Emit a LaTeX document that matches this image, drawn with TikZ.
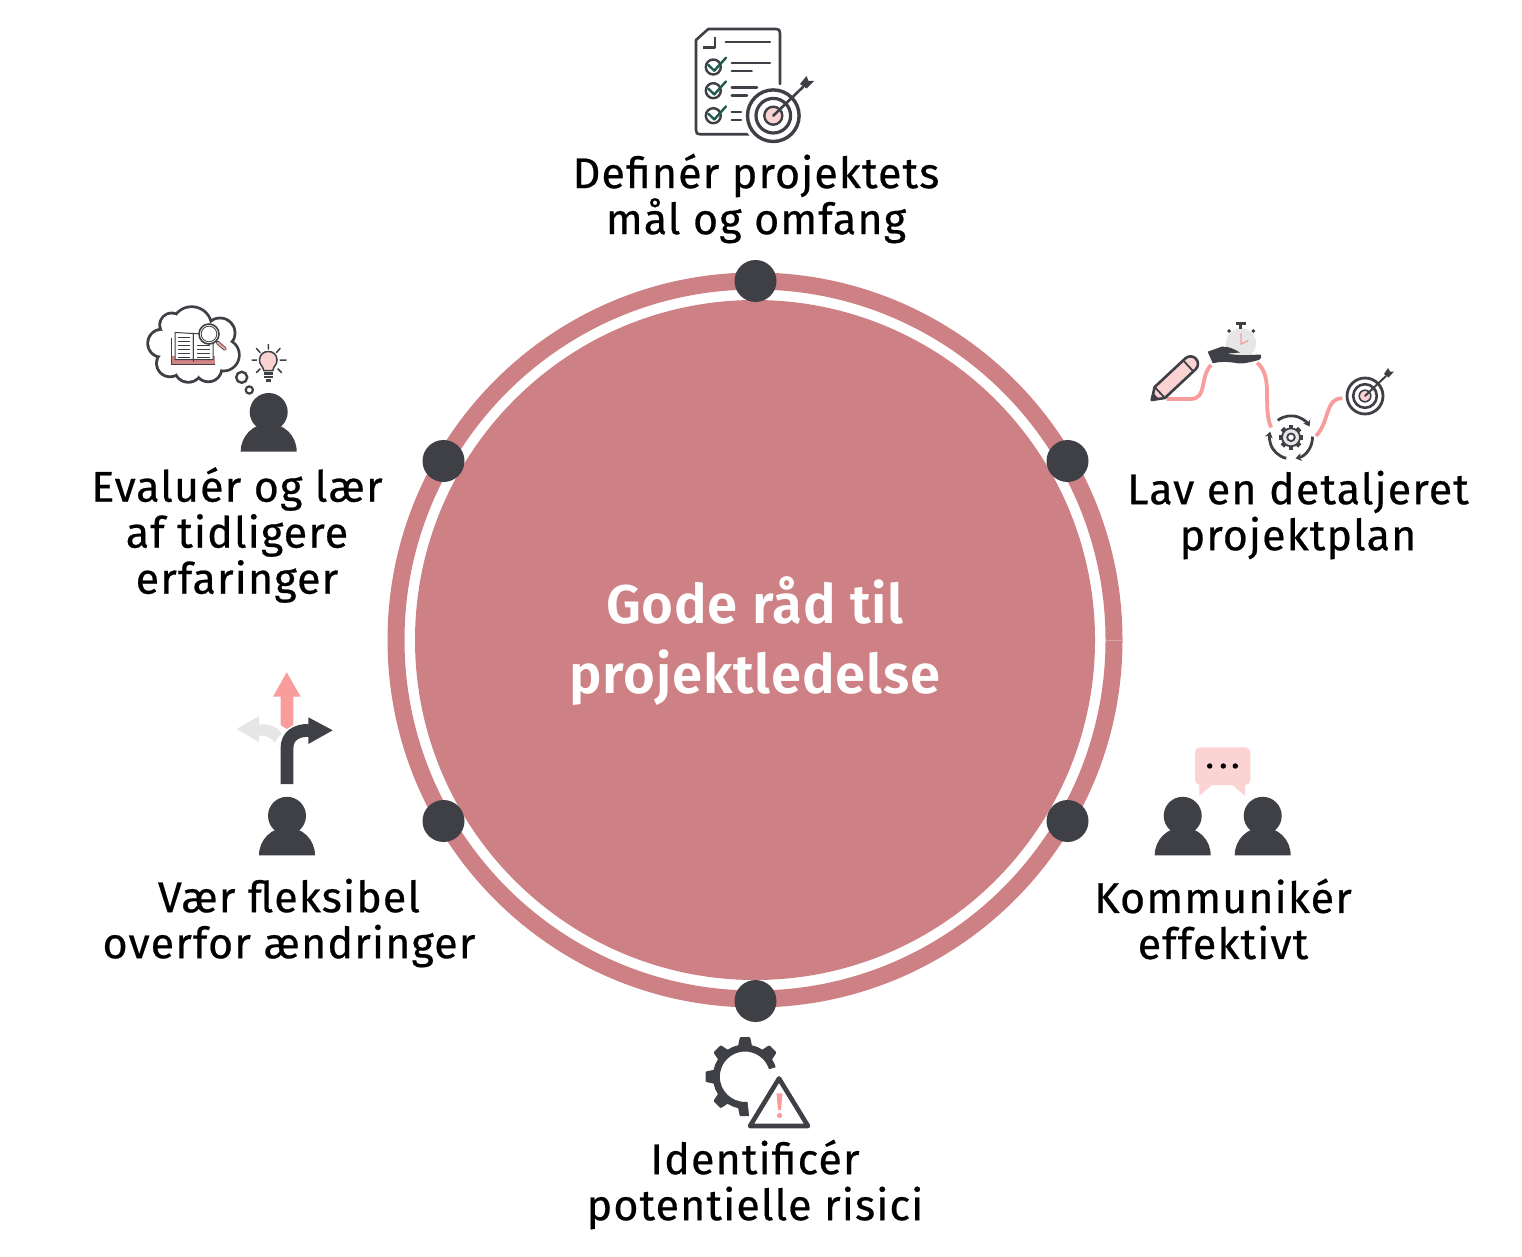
\documentclass[tikz,border=0pt]{standalone}
\usepackage{fontspec}
\usetikzlibrary{arrows.meta}
\setmainfont{Fira Sans}[LetterSpace=2.6,FakeBold=0.5]
\newfontfamily\boldf{Fira Sans SemiBold}[LetterSpace=1.5]
\definecolor{rose}{HTML}{CD8185}
\definecolor{seam}{HTML}{DDA4A7}
\definecolor{ink}{HTML}{3F4045}
\definecolor{salmon}{HTML}{F89C9C}
\definecolor{blush}{HTML}{FBD3D3}
\definecolor{mist}{HTML}{E6E6E6}
\definecolor{leaf}{HTML}{1F5A4A}
\tikzset{
 lab/.style={align=center,font=\fontsize{43}{46}\selectfont,text=black,inner sep=0pt},
 title/.style={align=center,font=\boldf\fontsize{54.5}{70}\selectfont,text=white,inner sep=0pt},
 dot/.style={circle,fill=ink,minimum size=42pt,inner sep=0pt},
 outl/.style={draw=ink,line width=2.6pt,line join=round,line cap=round},
 thinl/.style={draw=ink,line width=2pt,line cap=round},
 curvel/.style={draw=salmon,line width=3.8pt,line cap=butt},
 check/.style={draw=leaf,line width=2.4pt,line cap=round,line join=round},
 person/.pic={\fill[ink] (0,-39.5) circle (19);
   \fill[ink] (-28,0) .. controls (-28,-16) and (-15,-28) .. (0,-28) .. controls (15,-28) and (28,-16) .. (28,0) -- cycle;},
}
\begin{document}
\begin{tikzpicture}[x=1pt,y=-1pt]
\useasboundingbox (0,0) rectangle (1522,1257);
% ring and disc
\fill[rose,even odd rule] (755,640) circle (367.5) (755,640) circle (350.5);
\fill[rose] (755,640) circle (340);
\draw[seam,line width=0.5pt] (1105.5,640) -- (1122.5,640);
\node[title] (centre) at (755,641) {Gode råd til\\projektledelse};
% dots
\node[dot] (d1) at (755.5,281) {};
\node[dot] (d2) at (1067.5,461) {};
\node[dot] (d3) at (1067.5,821) {};
\node[dot] (d4) at (755.5,1001) {};
\node[dot] (d5) at (443.5,821) {};
\node[dot] (d6) at (443.5,461) {};
% labels
\node[lab] (l1) at (756,198.5) {Definér projektets\\mål og omfang};
\node[lab] (l2) at (1298,515) {Lav en detaljeret\\projektplan};
\node[lab] (l3) at (1223,919) {Kommunikér\\effektivt};
\node[lab] (l4) at (755,1184.5) {Identificér\\potentielle risici};
\node[lab] (l5) at (289,923) {Vær fleksibel\\overfor ændringer};
\node[lab] (l6) at (237,535) {Evaluér og lær\\af tidligere\\erfaringer};

% ---- icon 1: checklist and target
\draw[outl] (780,84) -- (780,33) .. controls (780,30) and (779,29) .. (776,29) -- (708.3,29) -- (696,40) -- (696,130) .. controls (696,133) and (697,134.3) .. (700,134.3) -- (750,134.3);
\draw[outl,line cap=butt] (715,36.7) -- (715,47.3) -- (703.3,47.3);
\draw[thinl,line width=2.4pt] (725.7,42.3) -- (770,42.3);
\draw[thinl,line width=2.4pt] (731.7,63.3) -- (770,63.3) (731.7,71) -- (751.7,71)
  (731.7,87.7) -- (757,87.7) (731.7,95.7) -- (747,95.7)
  (731.7,112.3) -- (741,112.3) (731.7,120.3) -- (741,120.3);
\foreach \cy in {67,90.7,115.7}{
  \draw[ink,line width=2.4pt] (713.3,\cy) circle (7.5);
  \draw[check] (708.3,\cy-2) -- (714.3,\cy+3.7) -- (726,\cy-9.3);
}
\fill[white] (773.3,115.7) circle (31);
\fill[blush] (773.3,115.7) circle (8);
\draw[ink,line width=3.4pt] (773.3,115.7) circle (25.8);
\draw[ink,line width=3.2pt] (773.3,115.7) circle (17.3);
\draw[ink,line width=2.4pt] (773.3,115.7) circle (9);
\draw[ink,line width=2.6pt,line cap=round] (773.3,115.7) -- (803,87);
\fill[ink] (800,84) -- (806.5,76) -- (808.5,81) -- (814,81) -- (806.5,88.5) -- cycle;

% ---- icon 2: plan path
\draw[curvel] (1166.7,399) -- (1190,399) .. controls (1208,399) and (1199,378) .. (1211,365);
\draw[curvel] (1257.3,362.7) .. controls (1274,378) and (1262,405) .. (1271,427.5);
\draw[curvel] (1316,436) .. controls (1330,421) and (1325,398) .. (1342.3,398.3);
% pencil
\begin{scope}[shift={(1151.7,400)},rotate=43]
  \fill[blush] (0,0) -- (11,-7.5) -- (53,-7.5) arc (90:-90:7.5pt) -- (11,7.5) -- cycle;
  \fill[ink] (0,0) -- (6,-4) -- (6,4) -- cycle;
  \draw[outl] (0,0) -- (11,-7.5) -- (53,-7.5) arc (90:-90:7.5pt) -- (11,7.5) -- cycle;
  \draw[ink,line width=1.8pt] (11,-7.5) -- (11,7.5) (50,-7.5) -- (50,7.5);
\end{scope}
% stopwatch
\fill[mist] (1241,343.3) circle (15);
\fill[ink] (1235.8,321.5) rectangle (1245.5,325);
\fill[ink] (1239,325) rectangle (1242.3,329);
\fill[ink] (1229,329) -- (1231,331) -- (1229,333) -- (1227,331) -- cycle;
\fill[ink] (1253.3,329) -- (1255.3,331) -- (1253.3,333) -- (1251.3,331) -- cycle;
\draw[salmon,line width=1.3pt] (1241,333.3) -- (1241,344) -- (1248.3,340.7);
% hand
\fill[ink] (1207.7,351.7) -- (1221.7,346.7) .. controls (1228,346) and (1234,349) .. (1240,352.5) -- (1227,353.5) .. controls (1238,356) and (1250,355) .. (1260.7,354.5) .. controls (1262,357) and (1261,359) .. (1259,360) .. controls (1250,362) and (1245,364) .. (1238,363.3) .. controls (1230,362) and (1222,361) .. (1212.7,363.3) -- cycle;
% gear with arrows
\foreach \a in {0,45,...,315}{
  \fill[ink,shift={(1291,437.3)},rotate=\a] (8,-2.4) rectangle (12.3,2.4);
}
\draw[ink,line width=1.8pt,fill=mist] (1291,437.3) circle (9);
\draw[ink,line width=1.8pt,fill=white] (1291,437.3) circle (3.8);
\draw[ink,line width=2.8pt,-{Stealth[length=6pt,width=8pt]}] ([shift={(128:21.5pt)}]1291,437.3) arc (128:30:21.5pt);
\draw[ink,line width=2.8pt,-{Stealth[length=6pt,width=8pt]}] ([shift={(2:21.5pt)}]1291,437.3) arc (2:-78:21.5pt);
\draw[ink,line width=2.8pt,-{Stealth[length=6pt,width=8pt]}] ([shift={(-103:21.5pt)}]1291,437.3) arc (-103:-195:21.5pt);
% target small
\fill[blush] (1365,396) circle (5.5);
\draw[ink,line width=2.8pt] (1365,396) circle (18);
\draw[ink,line width=2.6pt] (1365,396) circle (11.8);
\draw[ink,line width=1.6pt] (1365,396) circle (5.8);
\draw[ink,line width=2pt,line cap=round] (1365,396) -- (1386,376);
\fill[ink] (1384,374) -- (1388,368) -- (1390,371.5) -- (1394,371.5) -- (1388.5,377.5) -- cycle;

% ---- icon 3: cloud, book, bulb, person
\foreach \x/\y/\r in {191.7/326.7/20, 220/333/15, 223.3/355/16, 208.3/368.3/13.5, 188.3/368.3/14, 170/363.3/13.5, 161.7/343.3/14, 171.7/325/12}{
  \fill[ink] (\x,\y) circle (\r+1.4);
}
\foreach \x/\y/\r in {191.7/326.7/20, 220/333/15, 223.3/355/16, 208.3/368.3/13.5, 188.3/368.3/14, 170/363.3/13.5, 161.7/343.3/14, 171.7/325/12}{
  \fill[white] (\x,\y) circle (\r-1.4);
}
\fill[white] (170,335) rectangle (222,360);
% book
\fill[salmon!85!black] (171,356) rectangle (215,364);
\draw[ink,line width=1pt,fill=white] (175,332.5) -- (193.3,333.5) -- (193.3,359.5) -- (175,359.5) -- cycle;
\draw[ink,line width=1pt,fill=white] (193.3,333.5) -- (213,334.5) -- (213,359.5) -- (193.3,359.5) -- cycle;
\draw[ink,line width=0.9pt] (171,338) -- (171,364) -- (215,364) (193.3,333.5) -- (193.3,362);
\foreach \ly in {337,341,345,349,353,357}{
  \draw[ink,line width=0.9pt] (178,\ly) -- (190,\ly);
}
\foreach \ly in {345,349,353,357}{
  \draw[ink,line width=0.9pt] (197,\ly) -- (210,\ly);
}
% magnifier
\draw[draw=ink,line width=3.6pt,line cap=round] (217.5,342.5) -- (225,349);
\draw[salmon,line width=2pt,line cap=round] (217.5,342.5) -- (225,349);
\draw[ink,line width=1.6pt,fill=white] (209,334) circle (10);
\draw[ink,line width=0.8pt] (209,334) circle (7.8);
% thought bubbles
\draw[ink,line width=2.4pt] (241.7,377.3) circle (5.5);
\draw[ink,line width=2.2pt] (249.3,390) circle (3.6);
% bulb
\draw[ink,line width=1.5pt,fill=blush] (263.8,370.5) .. controls (263,365.5) and (259,365) .. (259.5,359.5) .. controls (260,354) and (264,351.5) .. (268.3,351.5) .. controls (272.6,351.5) and (276.6,354) .. (277,359.5) .. controls (277.5,365) and (273.5,365.5) .. (272.8,370.5) -- cycle;
\fill[ink] (263.5,372) rectangle (273.3,374.5);
\fill[ink] (263.5,375.5) rectangle (273.3,378);
\fill[ink] (265.5,379) rectangle (271.3,382);
\draw[thinl,line width=1.5pt] (268.3,344.5) -- (268.3,349) (256.5,348.5) -- (260,352.5) (280,348.5) -- (276.5,352.5)
  (252,360) -- (256.5,360) (280,360) -- (286,360) (260,369) -- (256.5,372.5) (278,369) -- (281.5,372.5);
\pic at (268.7,451.5) {person};

% ---- icon 4: three ways
\fill[mist] (236.7,729) -- (259,716) -- (259,724.3) .. controls (272,724) and (281,728) .. (282,737) -- (277,750) .. controls (276,741) and (270,735.5) .. (259,735.5) -- (259,742.3) -- cycle;
\fill[salmon] (286.7,672.3) -- (300.7,696.7) -- (293.3,696.7) -- (293.3,725) -- (286.7,729) -- (280.7,725) -- (280.7,696.7) -- (273,696.7) -- cycle;
\draw[white,line width=4pt] (275,752) .. controls (275,738) and (288,731) .. (300,727);
\draw[ink,line width=12.8pt] (287,784) -- (287,748) .. controls (287,736) and (296,730.3) .. (309,730.3);
\fill[ink] (308.3,717.3) -- (332.7,730.3) -- (308.3,744) -- cycle;
\pic at (287,855.3) {person};

% ---- icon 5: two people talking
\fill[blush,rounded corners=5pt] (1195,747.3) rectangle (1250.3,785);
\fill[blush] (1213.3,784) -- (1199.3,795.7) -- (1199.3,784) -- cycle;
\fill[blush] (1231,784) -- (1245,795.7) -- (1245,784) -- cycle;
\fill[black] (1209.7,766) circle (2.7) (1223.3,766) circle (2.7) (1235.3,766) circle (2.7);
\pic at (1182.7,855.3) {person};
\pic at (1262.7,855.3) {person};

% ---- icon 6: gear and warning
\foreach \a in {0,45,...,315}{
  \fill[ink,shift={(745,1076.7)},rotate=\a] (28,-7.5) -- (38,-5.5) -- (39.5,-4.5) -- (39.5,4.5) -- (38,5.5) -- (28,7.5) -- cycle;
}
\draw[ink,line width=7pt] (745,1076.7) circle (28.7);
% cut the gear where the warning sign sits
\fill[white] (745,1076.7) -- ++(17:48pt) arc (17:-84:48pt) -- cycle;
\draw[ink,line width=4.6pt,line join=round,fill=white] (779,1078.5) -- (750,1126) -- (808,1126) -- cycle;
\fill[salmon] (776.5,1093.3) -- (782.5,1093.3) -- (781,1110) -- (778,1110) -- cycle;
\fill[salmon] (779.5,1115.5) circle (2.6);
\end{tikzpicture}
\end{document}
